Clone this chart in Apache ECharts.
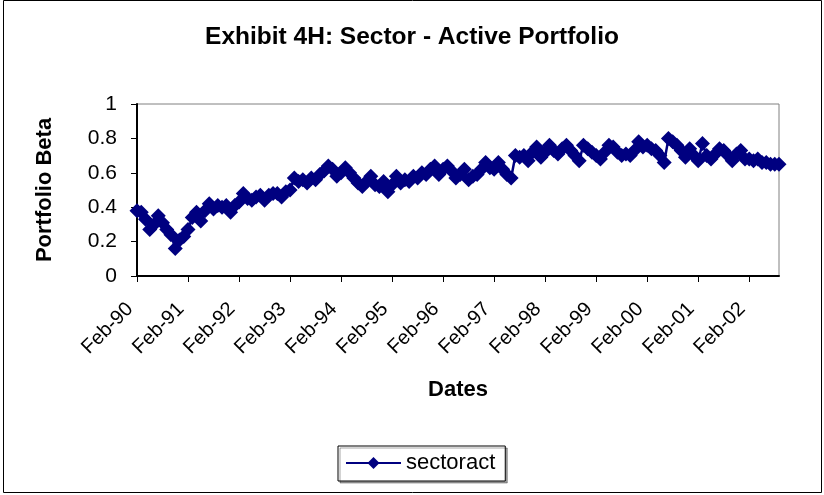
<!DOCTYPE html>
<html>
<head>
<meta charset="utf-8">
<script src="https://cdn.jsdelivr.net/npm/echarts@6/dist/echarts.min.js"></script>
<style>
html,body{margin:0;padding:0;background:#fff;}
#chart{width:824px;height:495px;}
</style>
</head>
<body>
<div id="chart"></div>
<script>
var dates = [
"Feb-90","Mar-90","Apr-90","May-90","Jun-90","Jul-90","Aug-90","Sep-90","Oct-90","Nov-90","Dec-90","Jan-91",
"Feb-91","Mar-91","Apr-91","May-91","Jun-91","Jul-91","Aug-91","Sep-91","Oct-91","Nov-91","Dec-91","Jan-92",
"Feb-92","Mar-92","Apr-92","May-92","Jun-92","Jul-92","Aug-92","Sep-92","Oct-92","Nov-92","Dec-92","Jan-93",
"Feb-93","Mar-93","Apr-93","May-93","Jun-93","Jul-93","Aug-93","Sep-93","Oct-93","Nov-93","Dec-93","Jan-94",
"Feb-94","Mar-94","Apr-94","May-94","Jun-94","Jul-94","Aug-94","Sep-94","Oct-94","Nov-94","Dec-94","Jan-95",
"Feb-95","Mar-95","Apr-95","May-95","Jun-95","Jul-95","Aug-95","Sep-95","Oct-95","Nov-95","Dec-95","Jan-96",
"Feb-96","Mar-96","Apr-96","May-96","Jun-96","Jul-96","Aug-96","Sep-96","Oct-96","Nov-96","Dec-96","Jan-97",
"Feb-97","Mar-97","Apr-97","May-97","Jun-97","Jul-97","Aug-97","Sep-97","Oct-97","Nov-97","Dec-97","Jan-98",
"Feb-98","Mar-98","Apr-98","May-98","Jun-98","Jul-98","Aug-98","Sep-98","Oct-98","Nov-98","Dec-98","Jan-99",
"Feb-99","Mar-99","Apr-99","May-99","Jun-99","Jul-99","Aug-99","Sep-99","Oct-99","Nov-99","Dec-99","Jan-00",
"Feb-00","Mar-00","Apr-00","May-00","Jun-00","Jul-00","Aug-00","Sep-00","Oct-00","Nov-00","Dec-00","Jan-01",
"Feb-01","Mar-01","Apr-01","May-01","Jun-01","Jul-01","Aug-01","Sep-01","Oct-01","Nov-01","Dec-01","Jan-02",
"Feb-02","Mar-02","Apr-02","May-02","Jun-02","Jul-02","Aug-02","Sep-02"
];

var sectoract = [
0.38,0.37,0.33,0.27,0.30,0.35,0.31,0.27,0.24,0.16,0.21,0.23,
0.27,0.34,0.37,0.32,0.38,0.42,0.39,0.41,0.40,0.41,0.37,0.41,
0.43,0.48,0.45,0.44,0.46,0.47,0.44,0.47,0.48,0.48,0.46,0.49,
0.50,0.57,0.55,0.56,0.54,0.57,0.56,0.59,0.61,0.64,0.62,0.58,
0.60,0.63,0.60,0.57,0.54,0.52,0.55,0.58,0.53,0.52,0.55,0.49,
0.53,0.58,0.54,0.56,0.55,0.58,0.57,0.60,0.59,0.62,0.64,0.59,
0.62,0.64,0.61,0.57,0.59,0.62,0.56,0.58,0.59,0.62,0.66,0.63,
0.62,0.66,0.62,0.59,0.57,0.70,0.69,0.70,0.67,0.72,0.75,0.69,
0.72,0.76,0.73,0.71,0.74,0.76,0.73,0.70,0.67,0.76,0.74,0.72,
0.70,0.68,0.72,0.76,0.75,0.72,0.70,0.71,0.70,0.73,0.78,0.75,
0.76,0.74,0.73,0.70,0.66,0.80,0.78,0.76,0.73,0.69,0.74,0.70,
0.67,0.77,0.70,0.68,0.71,0.74,0.73,0.70,0.67,0.71,0.73,0.68,
0.68,0.67,0.68,0.66,0.66,0.65,0.65,0.65
];

var yTicks = [0, 0.2, 0.4, 0.6, 0.8, 1];

var FONT = 'Liberation Sans, Arial, sans-serif';
var chart = echarts.init(document.getElementById('chart'), null, {renderer: 'canvas'});
chart.setOption({
  backgroundColor: '#ffffff',
  animation: false,
  title: {
    text: 'Exhibit 4H: Sector - Active Portfolio',
    left: 'center',
    top: 20,
    textStyle: {fontFamily: FONT, fontWeight: 'bold', fontSize: 24.5, color: '#000'}
  },
  graphic: [{
    type: 'rect', silent: true, z: -1,
    shape: {x: 3.5, y: 0.5, width: 818, height: 492},
    style: {fill: 'none', stroke: '#000', lineWidth: 1}
  }],
  legend: {
    left: 338, top: 446,
    padding: [6, 10, 7, 7],
    itemWidth: 55, itemHeight: 15, itemGap: 6,
    borderColor: '#000', borderWidth: 1,
    shadowColor: 'rgba(0,0,0,0.35)', shadowOffsetX: 2, shadowOffsetY: 2, shadowBlur: 0,
    backgroundColor: '#fff',
    textStyle: {fontFamily: FONT, fontSize: 22, color: '#000'},
    data: ['sectoract']
  },
  grid: {
    left: 137, right: 45, top: 104, bottom: 219,
    show: true, borderColor: '#808080', borderWidth: 1, backgroundColor: '#fff'
  },
  xAxis: {
    type: 'category',
    data: dates,
    boundaryGap: false,
    name: 'Dates',
    nameLocation: 'middle',
    nameGap: 103,
    nameTextStyle: {fontFamily: FONT, fontWeight: 'bold', fontSize: 22, color: '#000'},
    axisLine: {lineStyle: {color: '#000', width: 2}},
    axisTick: {interval: 11, length: 6, lineStyle: {color: '#000'}},
    axisLabel: {interval: 11, rotate: 45, margin: 23, padding: [0, 10, 0, 0], fontFamily: FONT, fontSize: 20, color: '#000'},
    splitLine: {show: false}
  },
  yAxis: {
    type: 'value',
    min: 0, max: 1, interval: 0.2,
    name: 'Portfolio Beta',
    nameLocation: 'middle',
    nameGap: 81,
    nameTextStyle: {fontFamily: FONT, fontWeight: 'bold', fontSize: 22, color: '#000'},
    axisLine: {show: true, lineStyle: {color: '#000', width: 2}},
    axisTick: {show: true, length: 6, lineStyle: {color: '#000'}},
    axisLabel: {margin: 20, fontFamily: FONT, fontSize: 21, color: '#000',
      formatter: function (v) { return yTicks.indexOf(+v.toFixed(1)) >= 0 ? String(+v.toFixed(1)) : ''; }},
    splitLine: {show: false}
  },
  series: [{
    name: 'sectoract',
    type: 'line',
    data: sectoract,
    symbol: 'diamond',
    symbolSize: 15,
    showAllSymbol: true,
    color: '#000080',
    itemStyle: {color: '#000080'},
    lineStyle: {color: '#000080', width: 2.5}
  }]
});
</script>
</body>
</html>
